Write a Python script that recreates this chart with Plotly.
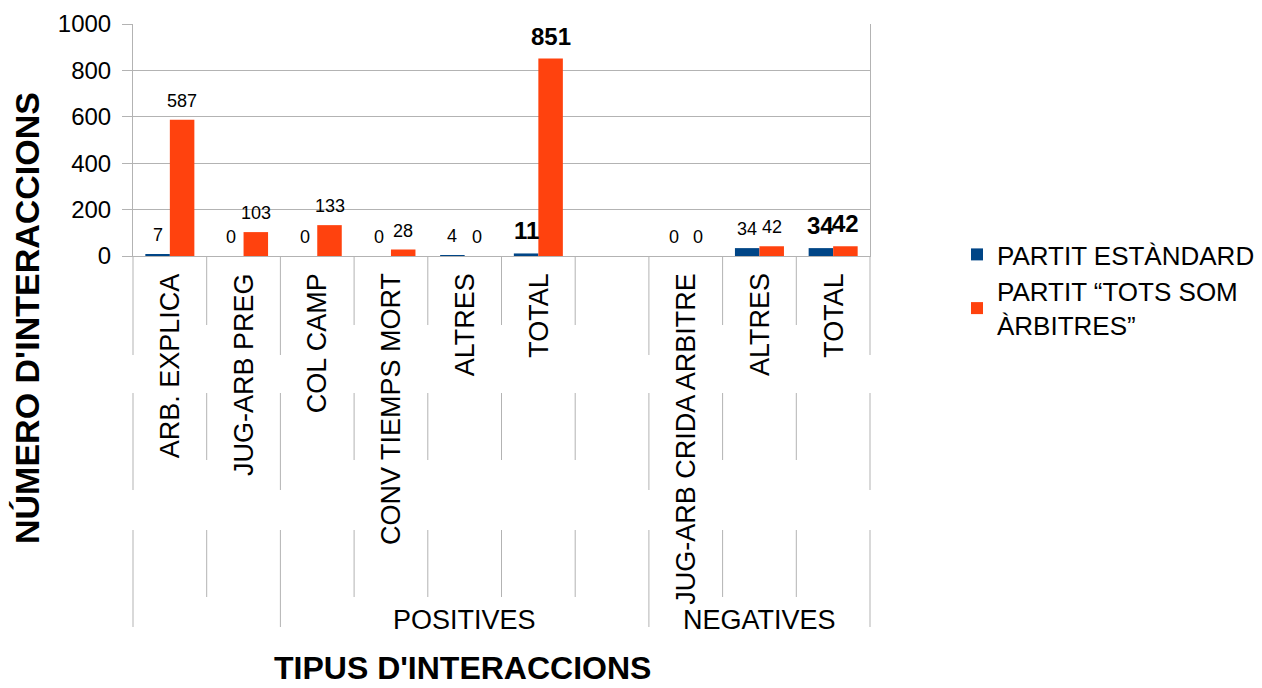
import plotly.graph_objects as go

# ---- data ----
categories = ["ARB. EXPLICA", "JUG-ARB PREG", "COL CAMP", "CONV TIEMPS MORT", "ALTRES", "TOTAL",
              "", "JUG-ARB CRIDA ARBITRE", "ALTRES", "TOTAL"]
groups = ["POSITIVES", "NEGATIVES"]
group_members = {"POSITIVES": [0, 1, 2, 3, 4, 5, 6, 7, 8], "NEGATIVES": [7, 8, 9]}
standard = [7, 0, 0, 0, 4, 11, None, 0, 34, 34]
tots_som = [587, 103, 133, 28, 0, 851, None, 0, 42, 42]
is_total = [False, False, False, False, False, True, False, False, False, True]
series_names = ["PARTIT ESTÀNDARD", "PARTIT “TOTS SOM<br>ÀRBITRES”"]
y_ticks = [0, 200, 400, 600, 800, 1000]

# ---- style ----
BLUE = "#004586"
ORANGE = "#ff420e"
GRID = "#b3b3b3"
FONT = "Liberation Sans, Arial, sans-serif"
W, H = 1262, 688
L, R, T, B = 133, 392, 24, 432
PH = H - T - B  # plot height in px
BARGAP = 0.335


def ypap(px):
    return (H - B - px) / PH


def xpap(px):
    return (px - L) / (W - L - R)


x = list(range(len(categories)))
series = [(series_names[0], standard, BLUE), (series_names[1], tots_som, ORANGE)]

fig = go.Figure()
for name, vals, col in series:
    fig.add_trace(go.Bar(
        x=x, y=vals, name=name, marker=dict(color=col, line=dict(width=0)),
        hoverinfo="skip",
    ))

# data labels above bars
bar_w = (1 - BARGAP) / len(series)
for k, (name, vals, col) in enumerate(series):
    off = (k - (len(series) - 1) / 2) * bar_w
    for i, (v, tot) in enumerate(zip(vals, is_total)):
        if v is None:
            continue
        fig.add_annotation(
            x=i + off, xref="x", y=v, yref="y", yanchor="bottom", xanchor="center",
            yshift=7, showarrow=False,
            text=f"<b>{v}</b>" if tot else str(v),
            font=dict(size=24 if tot else 18, family=FONT, color="black"),
        )

fig.update_layout(
    width=W, height=H,
    margin=dict(l=L, r=R, t=T, b=B, pad=0, autoexpand=False),
    paper_bgcolor="white", plot_bgcolor="white",
    barmode="group", bargap=BARGAP, bargroupgap=0,
    font=dict(family=FONT, color="black"),
    showlegend=True,
    legend=dict(x=xpap(957), y=ypap(231), xanchor="left", yanchor="top",
                font=dict(size=26, family=FONT, color="black"),
                itemwidth=30, bgcolor="rgba(0,0,0,0)"),
)
fig.update_xaxes(range=[-0.5, len(categories) - 0.5], showticklabels=False, ticks="",
                 showgrid=False, zeroline=False, showline=True, linecolor=GRID, linewidth=1)
fig.update_yaxes(range=[0, 1000], tickvals=y_ticks, showgrid=True, gridcolor=GRID, gridwidth=1,
                 ticks="outside", ticklen=10, tickcolor=GRID, showline=True, linecolor=GRID,
                 mirror=True, zeroline=False, tickfont=dict(size=24, family=FONT, color="black"),
                 ticklabelstandoff=6)

# category labels (rotated)
for i, c in enumerate(categories):
    if c:
        fig.add_annotation(x=i, xref="x", y=ypap(271), yref="paper", text=c, textangle=-90,
                           xanchor="center", yanchor="top", showarrow=False,
                           font=dict(size=27, family=FONT, color="black"))

# group labels
for g in groups:
    mem = group_members[g]
    center = (min(mem) + max(mem)) / 2
    fig.add_annotation(x=center, xref="x", y=ypap(620), yref="paper", text=g,
                       xanchor="center", yanchor="middle", showarrow=False,
                       font=dict(size=27, family=FONT, color="black"))

# divider lines below axis
long_bounds = {0, 2, 7, 10}
n = len(categories)
for b in range(n + 1):
    xd = b / n
    if b in long_bounds:
        segs = [(256, 355), (393, 490), (530, 627)]
    else:
        segs = [(256, 325), (393, 460), (530, 597)]
    for y0, y1 in segs:
        fig.add_shape(type="line", xref="x domain", yref="paper", x0=xd, x1=xd,
                      y0=ypap(y0), y1=ypap(y1), line=dict(color=GRID, width=1))

# axis titles
fig.add_annotation(x=xpap(27), y=ypap(318), xref="paper", yref="paper", text="<b>NÚMERO D'INTERACCIONS</b>",
                   textangle=-90, showarrow=False, xanchor="center", yanchor="middle",
                   font=dict(size=34, family=FONT, color="black"))
fig.add_annotation(x=xpap(462), y=ypap(687), xref="paper", yref="paper", text="<b>TIPUS D'INTERACCIONS</b>",
                   showarrow=False, xanchor="center", yanchor="bottom", borderpad=0,
                   font=dict(size=32, family=FONT, color="black"))

fig.write_html("out.html", config={"displayModeBar": False},
               post_script="document.body.style.margin='0px';document.body.style.overflow='hidden';")
